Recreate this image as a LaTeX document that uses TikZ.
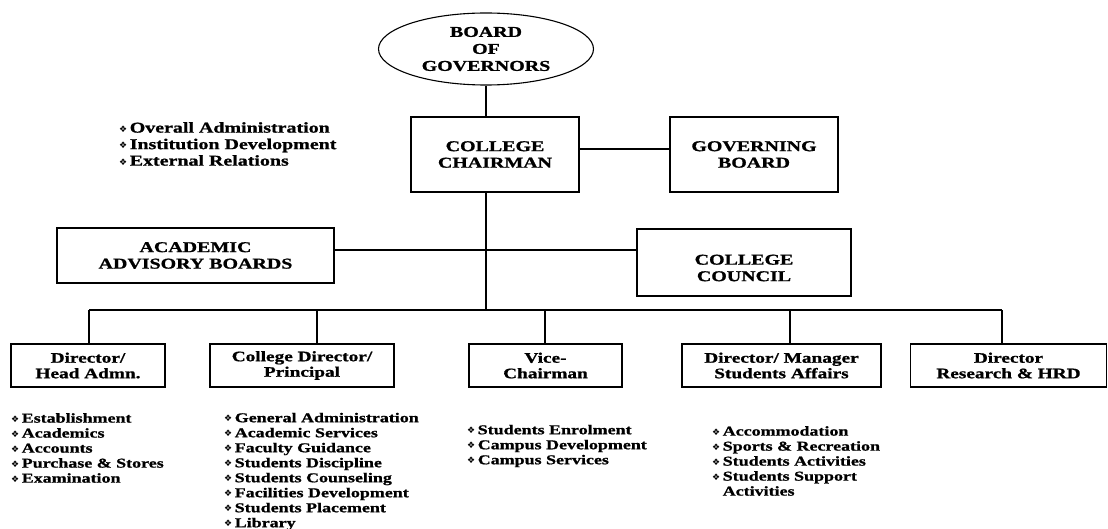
\documentclass[tikz,border=0pt]{standalone}
\usepackage{fontspec}
\setmainfont{Liberation Serif}[FakeStretch=1.33,BoldFeatures={FakeBold=1}]
\newfontfamily\dejavu{DejaVu Sans}
\usetikzlibrary{shapes.geometric}
\newcommand\bl{{\dejavu\fontsize{9}{9}\selectfont\raisebox{0.6pt}{❖}}\hspace{2.5pt}}
\newcommand\blsp{\phantom{\bl}}
\begin{document}
\begin{tikzpicture}[x=1pt,y=-1pt,
  box/.style={draw, line width=1.1pt, align=center, inner sep=0pt,
    font=\bfseries\fontsize{15}{16.5}\selectfont},
  sbox/.style={box, font=\bfseries\fontsize{14.5}{15.5}\selectfont, minimum height=43pt},
  lbl/.style={align=center, inner sep=0pt, font=\bfseries\fontsize{15}{16.5}\selectfont},
  toplst/.style={align=left, inner sep=0pt, anchor=west, font=\bfseries\fontsize{15}{16.5}\selectfont},
  lst/.style={align=left, inner sep=0pt, anchor=west, font=\bfseries\fontsize{13.5}{15}\selectfont},
  con/.style={line width=1.1pt}]
\useasboundingbox (0,0) rectangle (1108,529);
\fill[white] (0,0) rectangle (1108,529);

% top level
\node[box, ellipse, minimum width=215pt, minimum height=72pt,
  font=\bfseries\fontsize{15}{17}\selectfont] (gov) at (486,49) {BOARD\\OF\\GOVERNORS};
\node[box, minimum width=168pt, minimum height=75pt] (chair) at (495,154.5) {COLLEGE\\CHAIRMAN};
\node[box, minimum width=168pt, minimum height=75pt] (gb) at (754,154.5) {GOVERNING\\BOARD};

\node[toplst] (tl) at (119,144) {\bl Overall Administration\\\bl Institution Development\\\bl External Relations};

% middle
\node[box, minimum width=277pt, minimum height=55pt] (ac) at (195.5,255.5) {ACADEMIC\\ADVISORY BOARDS};
\node[box, minimum width=214pt, minimum height=67pt] (cc) at (744,262.5) {};
\node[lbl] (cct) at (744,268) {COLLEGE\\COUNCIL};

% bottom boxes
\node[sbox, minimum width=154pt] (dh) at (88,365.5) {Director/\\Head Admn.};
\node[sbox, minimum width=184pt] (cd) at (302,365.5) {College Director/\\Principal};
\node[sbox, minimum width=153pt] (vc) at (545.5,365.5) {Vice-\\Chairman};
\node[sbox, minimum width=199pt] (ma) at (781.5,365.5) {Director/ Manager\\Students Affairs};
\node[sbox, minimum width=196pt] (rh) at (1008.5,365.5) {Director\\Research \& HRD};

% lists
\node[lst] (l1) at (11,448) {\bl Establishment\\\bl Academics\\\bl Accounts\\\bl Purchase \& Stores\\\bl Examination};
\node[lst] (l2) at (224,471.5) {\bl General Administration\\\bl Academic Services\\\bl Faculty Guidance\\\bl Students Discipline\\\bl Students Counseling\\\bl Facilities Development\\\bl Students Placement\\\bl Library};
\node[lst] (l3) at (467,446) {\bl Students Enrolment\\\bl Campus Development\\\bl Campus Services};
\node[lst] (l4) at (712,461) {\bl Accommodation\\\bl Sports \& Recreation\\\bl Students Activities\\\bl Students Support\\\blsp Activities};

% connectors
\coordinate (busL) at (89,310);
\coordinate (busR) at (1002,310);
\coordinate (d2) at (317,310);
\coordinate (d3) at (545,310);
\coordinate (d4) at (790,310);
\draw[con] (gov.south) -- (gov.south |- chair.north);
\draw[con] (chair.south -| gov.south) -- (gov.south |- busL);
\draw[con] ([yshift=5.5pt]chair.east) -- ([yshift=5.5pt]chair.east -| gb.west);
\draw[con] ([yshift=5.5pt]ac.east) -- ([yshift=5.5pt]ac.east -| cc.west);
\draw[con] (busL) -- (busR);
\draw[con] (busL) -- (busL |- dh.north);
\draw[con] (d2) -- (d2 |- cd.north);
\draw[con] (d3) -- (d3 |- vc.north);
\draw[con] (d4) -- (d4 |- ma.north);
\draw[con] (busR) -- (busR |- rh.north);
\end{tikzpicture}
\end{document}
